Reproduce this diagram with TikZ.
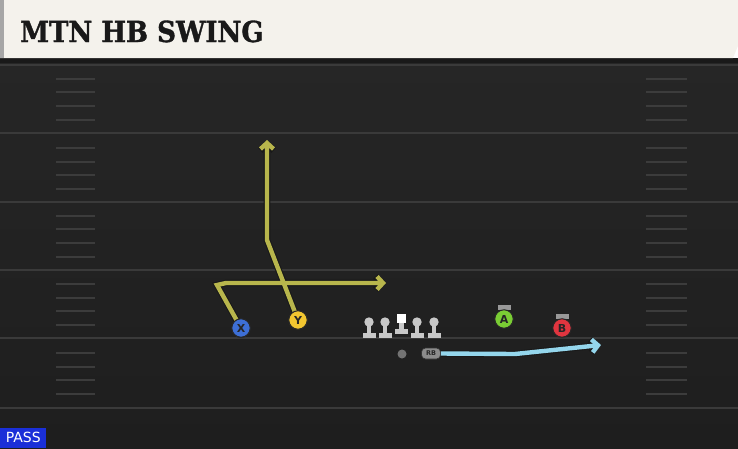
\documentclass[tikz,border=0pt]{standalone}
\usepackage{fontspec}
\setmainfont{DejaVu Serif}
\newfontfamily\titlefont{DejaVu Serif Condensed}[BoldFont={DejaVu Serif Condensed Bold},BoldFeatures={FakeBold=1.2}]
\newfontfamily\labfont{DejaVu Sans}
\usetikzlibrary{arrows.meta}
\definecolor{fieldbg}{HTML}{262626}
\definecolor{fieldbot}{HTML}{1E1E1E}
\definecolor{yardline}{HTML}{3A3A3A}
\definecolor{hashc}{HTML}{3C3C3C}
\definecolor{headbg}{HTML}{F4F2EC}
\definecolor{routeY}{HTML}{B8B64C}
\definecolor{routeB}{HTML}{94D6EC}
\definecolor{pX}{HTML}{3D6FD6}
\definecolor{pY}{HTML}{F2C630}
\definecolor{pA}{HTML}{7ACD34}
\definecolor{pB}{HTML}{E0353F}
\definecolor{lineman}{HTML}{C8C8C8}
\definecolor{passblue}{HTML}{1A2FD8}
\tikzset{
  x=1pt, y=-1pt,
  player/.style={circle, draw=black!85, line width=1pt, minimum size=18.5pt, inner sep=0pt,
    font=\labfont\bfseries\fontsize{11}{11}\selectfont, text=black!85},
  yard/.style={draw=yardline, line width=2pt},
  hashm/.style={draw=hashc, line width=1.6pt},
  routeout/.style={draw=black!90, line width=6.6pt, line join=miter},
  routein/.style={line width=4.4pt, line join=miter},
  tipY/.style={-{Straight Barb[length=6pt,width=13pt]}},
  lmgray/.style={fill=lineman, draw=none},
}
\begin{document}
\begin{tikzpicture}
\useasboundingbox (0,0) rectangle (738,448);
% field
\shade[top color=fieldbg, bottom color=fieldbot] (0,58) rectangle (738,448);
\fill[black!90] (0,58) rectangle (738,63);
% yard lines
\foreach \yy in {65,133,202,270,338,408} {\draw[yard] (0,\yy) -- (738,\yy);}
% hash marks
\foreach \yy in {79,92,106,120,148,162,175,189,216,229,243,257,284,298,311,325,353,367,380,394} {
  \draw[hashm] (56,\yy) -- (95,\yy);
  \draw[hashm] (646,\yy) -- (687,\yy);
}
% header
\fill[headbg] (0,0) -- (738,0) -- (738,46) -- (733,58) -- (0,58) -- cycle;
\fill[black!35] (0,0) rectangle (4,58);
\node[anchor=base west, inner sep=0pt, font=\titlefont\bfseries\fontsize{29}{29}\selectfont, text=black!90] (title) at (20,42) {MTN HB SWING};
% PASS
\node[fill=passblue, text=white, anchor=south west, inner sep=0pt, minimum width=46pt, minimum height=20pt,
  font=\labfont\fontsize{14}{14}\selectfont] (pass) at (0,448) {PASS};
% line
\foreach \xx/\nm in {369/lt,385/lg,417/rg,434/rt} {
  \fill[lmgray] (\xx-2.4,322) rectangle (\xx+2.4,334);
  \fill[lmgray] (\xx-6.5,333) rectangle (\xx+6.5,338);
  \fill[lmgray] (\xx,322) circle (4.7);
  \coordinate (\nm) at (\xx,330);
}
\fill[lmgray] (399.3,322) rectangle (403.7,331);
\fill[lmgray] (395,329) rectangle (408,333.5);
\node[fill=white, minimum size=9.5pt, inner sep=0pt] (c) at (401.5,318.5) {};
% QB / ball
\node[circle, fill=black!55, minimum size=9pt, inner sep=0pt] (qb) at (402,354) {};
% RB
\node[rounded corners=4pt, fill=black!45, draw=black!80, line width=0.7pt, minimum width=19pt, minimum height=11pt,
  inner sep=0pt, font=\labfont\bfseries\fontsize{6.5}{6.5}\selectfont, text=black!85] (rb) at (431,353.5) {RB};
% route coordinates
\coordinate (xc1) at (217,285);
\coordinate (xc2) at (226,283);
\coordinate (xend) at (386,283);
\coordinate (yc1) at (267,240);
\coordinate (yend) at (267,140);
\coordinate (bc1) at (515,354);
\coordinate (bend) at (601,345);
\node[player, fill=pX] (X) at (241,328) {X};
\node[player, fill=pY] (Y) at (298,320) {Y};
% routes
\draw[routeout, tipY, shorten <=6pt] (X.center) -- (xc1) -- (xc2) -- (xend);
\draw[routeout, tipY, shorten <=6pt] (Y.center) -- (yc1) -- (yend);
\draw[routein, routeY, tipY, shorten <=6pt] (X.center) -- (xc1) -- (xc2) -- (xend);
\draw[routein, routeY, tipY, shorten <=6pt] (Y.center) -- (yc1) -- (yend);
\draw[routeout, tipY] (rb.east) -- (bc1) -- (bend);
\draw[routein, routeB, tipY] (rb.east) -- (bc1) -- (bend);
% redraw players on top
\node[player, fill=pX] (X2) at (241,328) {X};
\node[player, fill=pY] (Y2) at (298,320) {Y};
% A and B with bars
\fill[black!50] (502,308) rectangle (506,314);
\fill[black!40] (497.5,304.5) rectangle (510.5,309.5);
\node[player, fill=pA] (A) at (504,319) {A};
\fill[black!50] (560,317) rectangle (564,322);
\fill[black!40] (555.5,313.5) rectangle (568.5,318.5);
\node[player, fill=pB] (B) at (562,328) {B};
\end{tikzpicture}
\end{document}
